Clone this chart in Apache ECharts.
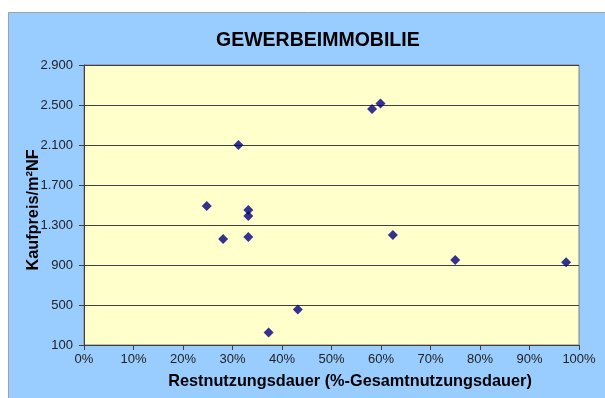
<!DOCTYPE html>
<html>
<head>
<meta charset="utf-8">
<script src="https://cdn.jsdelivr.net/npm/echarts@6/dist/echarts.min.js"></script>
<style>
  html, body { margin: 0; padding: 0; background: #ffffff; }
  #chart { width: 605px; height: 398px; }
</style>
</head>
<body>
<div id="chart"></div>
<script>
// Restnutzungsdauer in % der Gesamtnutzungsdauer
const restnutzung = [31.2, 24.8, 33.2, 33.2, 28.1, 33.2, 62.4, 43.2, 37.3, 58.2, 59.9, 75.0, 97.4];
// Kaufpreis je m² Nutzfläche
const kaufpreis = [2100, 1490, 1450, 1390, 1160, 1180, 1200, 455, 225, 2460, 2515, 950, 927];
// Achsenbeschriftungen
const yTicks = [100, 500, 900, 1300, 1700, 2100, 2500, 2900];
const xTicks = [0, 10, 20, 30, 40, 50, 60, 70, 80, 90, 100];

const points = restnutzung.map((x, i) => [x, kaufpreis[i]]);
const font = '"Liberation Sans", Arial, sans-serif';

function thousands(v) {
  return String(v).replace(/\B(?=(\d{3})+(?!\d))/g, '.');
}

const chart = echarts.init(document.getElementById('chart'), null, { renderer: 'canvas' });
chart.setOption({
  backgroundColor: '#ffffff',
  animation: false,
  graphic: [{
    type: 'rect',
    z: -10,
    silent: true,
    shape: { x: 8.5, y: 12.5, width: 700, height: 500 },
    style: { fill: '#99CCFF', stroke: '#9aa4ae', lineWidth: 1 }
  }],
  title: {
    text: 'GEWERBEIMMOBILIE',
    left: 216,
    top: 31,
    padding: 0,
    textStyle: { fontFamily: font, fontSize: 19.5, fontWeight: 'bold', color: '#000000' }
  },
  grid: {
    left: 84, top: 65, right: 26, bottom: 53,
    show: true,
    backgroundColor: '#FFFFCC',
    borderColor: '#808080',
    borderWidth: 1
  },
  xAxis: {
    type: 'value',
    min: 0, max: 100, interval: 10,
    name: 'Restnutzungsdauer (%-Gesamtnutzungsdauer)',
    nameLocation: 'middle',
    nameGap: 29,
    nameTextStyle: { fontFamily: font, fontSize: 16.3, fontWeight: 'bold', color: '#000000', padding: [0, 0, 0, 37] },
    axisLine: { show: true, lineStyle: { color: '#404040', width: 1 } },
    axisTick: { show: true, inside: false, length: 5, lineStyle: { color: '#404040' }, customValues: xTicks },
    axisLabel: { customValues: xTicks, margin: 8, fontFamily: font, fontSize: 13, color: '#222222', formatter: v => v + '%' },
    splitLine: { show: false }
  },
  yAxis: {
    type: 'value',
    min: 100, max: 2900,
    name: 'Kaufpreis/m²NF',
    nameLocation: 'middle',
    nameGap: 42,
    nameMoveOverlap: false,
    nameTextStyle: { fontFamily: font, fontSize: 16.3, fontWeight: 'bold', color: '#000000', padding: [0, 10, 0, 0] },
    axisLine: { show: true, lineStyle: { color: '#404040', width: 1 } },
    axisTick: { show: true, inside: false, length: 5, lineStyle: { color: '#404040' }, customValues: yTicks },
    axisLabel: { customValues: yTicks, margin: 11, fontFamily: font, fontSize: 13, color: '#222222', formatter: v => thousands(v) },
    splitLine: { show: true, lineStyle: { color: '#404040', width: 1 } }
  },
  series: [{
    type: 'scatter',
    data: points,
    symbol: 'diamond',
    symbolSize: [10, 10],
    itemStyle: { color: '#000080' },
    clip: false
  }]
});
</script>
</body>
</html>
